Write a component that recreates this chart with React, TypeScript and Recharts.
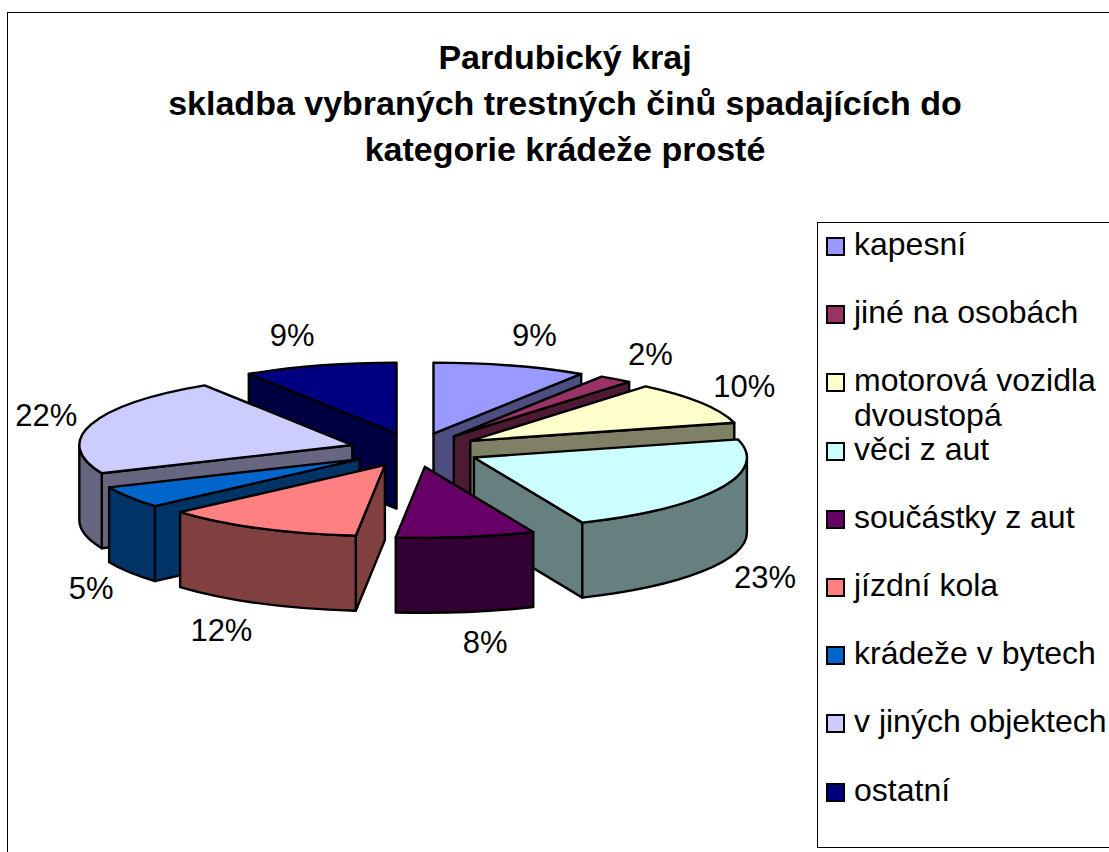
import { Legend, Pie, PieChart } from "recharts";

const CATEGORIES = [
  "kapesní",
  "jiné na osobách",
  "motorová vozidla dvoustopá",
  "věci z aut",
  "součástky z aut",
  "jízdní kola",
  "krádeže v bytech",
  "v jiných objektech",
  "ostatní",
];
const VALUES = [9.1, 2, 9.8, 22.6, 8.2, 11.8, 5, 22.4, 9.1];
const TOP_COLORS = ["#9999FF", "#993366", "#FFFFCC", "#CCFFFF", "#660066", "#FF8080", "#0066CC", "#CCCCFF", "#000080"];
const WALL_COLORS = ["#4D4D80", "#4D1A33", "#808066", "#668080", "#330033", "#804040", "#003366", "#666680", "#000040"];
// slices are painted back to front, so the near ones cover the far ones
const PAINT_ORDER = [0, 1, 2, 8, 7, 6, 3, 4, 5];
const TITLE_LINES = ["Pardubický kraj", "skladba vybraných trestných činů spadajících do", "kategorie krádeže prosté"];

const FONT = "'Liberation Sans', Arial, sans-serif";
const TILT = 71 / 273;
const EXPLODE = 0.24;
const DEPTH = 75;
const RAD = Math.PI / 180;

const data = CATEGORIES.map((name, i) => ({ name, value: VALUES[i], fill: TOP_COLORS[i] }));

// recharts angle -> point on the squashed rim, with the explode offset added
function rim(cx: number, cy: number, r: number, angle: number, k = 1) {
  return {
    x: cx + r * k * Math.cos(angle * RAD),
    y: cy - r * k * TILT * Math.sin(angle * RAD),
  };
}

function Slice3D(props: any) {
  const { cx, cy, outerRadius: r, startAngle, endAngle, index, paintIndex } = props;
  if (index !== paintIndex) return <g />;

  const mid = (startAngle + endAngle) / 2;
  const tip = rim(cx, cy, r, mid, EXPLODE);
  const ry = r * TILT;
  const a = rim(tip.x, tip.y, r, startAngle);
  const b = rim(tip.x, tip.y, r, endAngle);
  const large = startAngle - endAngle > 180 ? 1 : 0;
  const stroke = { stroke: "#000", strokeWidth: 2.4, strokeLinejoin: "round" as const };

  const wallFill = WALL_COLORS[index];
  const quad = (p: { x: number; y: number }) =>
    `M${tip.x},${tip.y} L${p.x},${p.y} L${p.x},${p.y + DEPTH} L${tip.x},${tip.y + DEPTH} Z`;

  // recharts runs 90 -> -270 clockwise; the near half of the rim is 0 -> -180
  const wallStart = Math.min(startAngle, 0);
  const wallEnd = Math.max(endAngle, -180);
  let outerWall = "";
  if (wallStart > wallEnd) {
    const p = rim(tip.x, tip.y, r, wallStart);
    const q = rim(tip.x, tip.y, r, wallEnd);
    outerWall =
      `M${p.x},${p.y} A${r},${ry} 0 0 1 ${q.x},${q.y} ` +
      `L${q.x},${q.y + DEPTH} A${r},${ry} 0 0 0 ${p.x},${p.y + DEPTH} Z`;
  }
  const cosStart = Math.cos(startAngle * RAD);
  const cosEnd = Math.cos(endAngle * RAD);

  return (
    <g>
      {cosStart < -0.001 && <path d={quad(a)} fill={wallFill} {...stroke} />}
      {cosEnd > 0.001 && <path d={quad(b)} fill={wallFill} {...stroke} />}
      {outerWall && <path d={outerWall} fill={wallFill} {...stroke} />}
      <path
        d={`M${tip.x},${tip.y} L${a.x},${a.y} A${r},${ry} 0 ${large} 1 ${b.x},${b.y} Z`}
        fill={TOP_COLORS[index]}
        {...stroke}
      />
    </g>
  );
}

function PercentLabel(props: any) {
  const { cx, cy, outerRadius: r, midAngle, percent } = props;
  const sin = Math.cos(midAngle * RAD);
  const cos = Math.sin(midAngle * RAD);
  const p = rim(cx, cy, r, midAngle, 1 + EXPLODE);
  let pad = 14 + 35 * Math.abs(sin);
  if (sin < 0) pad = cos < 0 ? 38 : 20 + 26 * Math.abs(sin);
  const x = p.x + Math.sign(sin) * pad;
  const y = p.y - 31 * cos + (cos < 0 ? DEPTH : 0);
  return (
    <text x={x} y={y} textAnchor="middle" dominantBaseline="central" fontFamily={FONT} fontSize={31} fill="#000">
      {`${Math.round(percent * 100)}%`}
    </text>
  );
}

function LegendBox() {
  return (
    <div style={{ position: "relative", width: 292, height: 624, fontFamily: FONT, fontSize: 32, color: "#000" }}>
      {CATEGORIES.map((name, i) => (
        <div key={name} style={{ position: "absolute", left: 9, top: 5 + i * 68.2, display: "flex", width: 282 }}>
          <div
            style={{
              width: 15,
              height: 15,
              flex: "none",
              marginTop: 10,
              marginRight: 9,
              border: "2px solid #000",
              background: TOP_COLORS[i],
            }}
          />
          <div style={{ lineHeight: "35px", width: 255 }}>{name}</div>
        </div>
      ))}
    </div>
  );
}

export default function App() {
  return (
    <div style={{ position: "fixed", left: 0, top: 0, width: 1109, height: 852, overflow: "hidden", background: "#fff" }}>
      <div
        style={{
          position: "absolute",
          left: 7,
          top: 12,
          width: 1110,
          height: 850,
          borderLeft: "1px solid #000",
          borderTop: "1px solid #000",
        }}
      />
      <div
        style={{
          position: "absolute",
          left: 20,
          top: 34,
          width: 1090,
          textAlign: "center",
          fontFamily: FONT,
          fontWeight: 700,
          fontSize: 34,
          lineHeight: "46px",
          color: "#000",
        }}
      >
        {TITLE_LINES.map((line) => (
          <div key={line}>{line}</div>
        ))}
      </div>
      <div
        style={{
          position: "absolute",
          left: 817,
          top: 222,
          width: 300,
          height: 624,
          border: "1px solid #000",
        }}
      />
      <PieChart width={1109} height={852} margin={{ top: 0, right: 0, bottom: 0, left: 0 }} style={{ position: "absolute", left: 0, top: 0 }}>
        <Legend
          layout="vertical"
          align="right"
          verticalAlign="top"
          wrapperStyle={{ left: 817, top: 222, width: 292 }}
          content={() => <LegendBox />}
        />
        {PAINT_ORDER.map((paintIndex, n) => (
          <Pie
            key={paintIndex}
            data={data}
            dataKey="value"
            nameKey="name"
            cx={415}
            cy={450}
            outerRadius={273}
            startAngle={90}
            endAngle={-270}
            stroke="none"
            isAnimationActive={false}
            labelLine={false}
            label={n === PAINT_ORDER.length - 1 ? (p: any) => <PercentLabel {...p} /> : false}
            shape={(p: any) => <Slice3D {...p} paintIndex={paintIndex} />}
          />
        ))}
      </PieChart>
    </div>
  );
}
